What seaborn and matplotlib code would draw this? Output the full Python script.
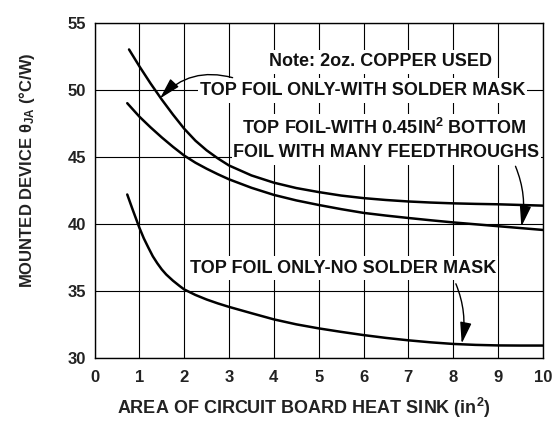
import matplotlib
matplotlib.use("Agg")
import matplotlib.pyplot as plt
from matplotlib.path import Path
import seaborn as sns
import pandas as pd

# Heat-sink area (in^2) and junction-to-ambient thermal resistance (°C/W)
area_mask = [0.77, 1.0, 1.25, 1.5, 1.75, 2.0, 2.25, 2.5, 2.75, 3.0, 3.5, 4.0, 4.5, 5.0,
             5.5, 6.0, 6.5, 7.0, 7.5, 8.0, 8.5, 9.0, 9.5, 10.0]
theta_mask = [53.0, 51.75, 50.47, 49.27, 48.15, 47.1, 46.21, 45.49, 44.89, 44.36, 43.62,
              43.08, 42.68, 42.38, 42.12, 41.93, 41.79, 41.68, 41.6, 41.54, 41.5, 41.47,
              41.42, 41.37]

area_bottom = [0.73, 1.0, 1.25, 1.5, 1.75, 2.0, 2.25, 2.5, 2.75, 3.0, 3.5, 4.0, 4.5, 5.0,
               5.5, 6.0, 6.5, 7.0, 7.5, 8.0, 8.5, 9.0, 9.5, 10.0]
theta_bottom = [49.0, 48.0, 47.2, 46.45, 45.75, 45.1, 44.57, 44.12, 43.71, 43.33, 42.7,
                42.17, 41.76, 41.42, 41.11, 40.83, 40.63, 40.45, 40.28, 40.12, 39.98, 39.84,
                39.7, 39.56]

area_nomask = [0.73, 0.85, 1.0, 1.1, 1.2, 1.3, 1.4, 1.5, 1.6, 1.75, 1.9, 2.0, 2.25, 2.5,
               2.75, 3.0, 3.5, 4.0, 4.5, 5.0, 5.5, 6.0, 6.5, 7.0, 7.5, 8.0, 8.5, 9.0, 9.5, 10.0]
theta_nomask = [42.2, 41.08, 39.73, 38.93, 38.25, 37.6, 37.08, 36.62, 36.24, 35.78, 35.38,
                35.13, 34.72, 34.38, 34.09, 33.83, 33.36, 32.9, 32.53, 32.23, 31.97, 31.73,
                31.52, 31.34, 31.19, 31.07, 31.0, 30.96, 30.95, 30.95]

x_ticks = [0, 1, 2, 3, 4, 5, 6, 7, 8, 9, 10]
y_ticks = [30, 35, 40, 45, 50, 55]

series_names = ["TOP FOIL ONLY-WITH SOLDER MASK",
                "TOP FOIL-WITH 0.45IN2 BOTTOM FOIL",
                "TOP FOIL ONLY-NO SOLDER MASK"]

df = pd.concat([
    pd.DataFrame({"area": area_mask, "theta": theta_mask, "board": series_names[0]}),
    pd.DataFrame({"area": area_bottom, "theta": theta_bottom, "board": series_names[1]}),
    pd.DataFrame({"area": area_nomask, "theta": theta_nomask, "board": series_names[2]}),
], ignore_index=True)

sns.set_style("white")
plt.rcParams["font.family"] = ["Liberation Sans", "DejaVu Sans"]
plt.rcParams["font.weight"] = "bold"
plt.rcParams["mathtext.fontset"] = "custom"
plt.rcParams["mathtext.rm"] = "Liberation Sans"
plt.rcParams["mathtext.bf"] = "Liberation Sans:bold"
plt.rcParams["mathtext.it"] = "Liberation Sans:italic"

fig = plt.figure(figsize=(5.55, 4.21), dpi=100)
ax = fig.add_axes([0.1703, 0.1489, 0.8078, 0.7974])

sns.lineplot(data=df, x="area", y="theta", hue="board", palette=["black"] * 3,
             estimator=None, sort=False, linewidth=1.8, legend=False, ax=ax, zorder=4)

ax.set_xlim(0, 10)
ax.set_ylim(30, 55)
ax.set_xticks(x_ticks)
ax.set_yticks(y_ticks)
ax.grid(True, color="black", linewidth=0.8, zorder=0)
ax.set_axisbelow(True)
for s in ax.spines.values():
    s.set_color("black")
    s.set_linewidth(1.0)
ax.tick_params(axis="both", length=0, labelsize=12, labelcolor="#222222")
ax.tick_params(axis="y", pad=6)
ax.tick_params(axis="x", pad=8.5)
for lab in ax.get_xticklabels() + ax.get_yticklabels():
    lab.set_fontweight("bold")

ax.set_xlabel(r"AREA OF CIRCUIT BOARD HEAT SINK (in$^{\mathbf{2}}$)",
              fontsize=13, fontweight="bold", color="#222222")
ax.set_ylabel(r"MOUNTED DEVICE $\mathrm{\theta}_{\mathbf{JA}}$ (°C/W)",
              fontsize=12, fontweight="bold", color="#222222")
ax.xaxis.set_label_coords(0.466, -0.112)
ax.yaxis.set_label_coords(-0.128, 0.559)


def label_box(x0, y0, width, height, mutation_size):
    # white backing that clears the grid: narrow at the sides, taller above/below
    px, py = 0.1 * mutation_size, 0.2 * mutation_size
    xa, ya = x0 - px, y0 - py
    xb, yb = x0 + width + px, y0 + height + py
    return Path([(xa, ya), (xb, ya), (xb, yb), (xa, yb), (xa, ya)], closed=True)


box = dict(boxstyle=label_box, facecolor="white", edgecolor="none")
txt = dict(fontsize=13, fontweight="bold", color="#111111", ha="center",
           va="center", bbox=box, zorder=3)

ax.text(6.38, 52.07, "Note: 2oz. COPPER USED", **txt)
ax.text(5.98, 49.95, "TOP FOIL ONLY-WITH SOLDER MASK", **txt)
ax.text(6.46, 47.18, r"TOP FOIL-WITH 0.45IN$^{\mathbf{2}}$ BOTTOM", **txt)
ax.text(6.51, 45.33, "FOIL WITH MANY FEEDTHROUGHS", **txt)
ax.text(5.54, 36.72, "TOP FOIL ONLY-NO SOLDER MASK", **txt)

arrow = dict(arrowstyle="-|>,head_length=1.3,head_width=0.35", color="black",
             lw=1.0, mutation_scale=10, shrinkA=0, shrinkB=0)
ax.annotate("", xy=(1.46, 49.35), xytext=(3.08, 50.9),
            arrowprops=dict(connectionstyle="arc3,rad=0.3", **arrow), zorder=5)
ax.annotate("", xy=(9.52, 39.8), xytext=(9.39, 44.3),
            arrowprops=dict(connectionstyle="arc3,rad=-0.15", **arrow), zorder=5)
ax.annotate("", xy=(8.19, 31.1), xytext=(8.06, 35.55),
            arrowprops=dict(connectionstyle="arc3,rad=-0.15", **arrow), zorder=5)

fig.savefig("out.png", dpi=100)
